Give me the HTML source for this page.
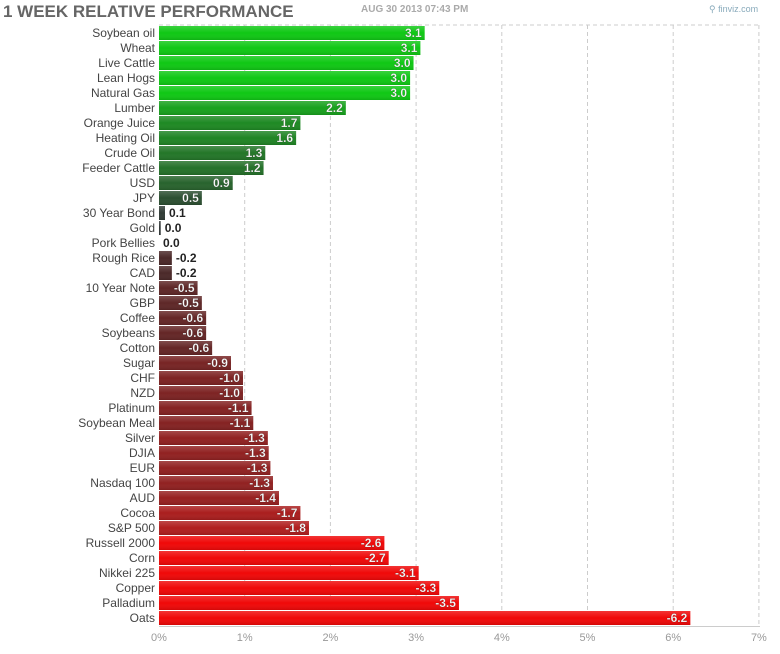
<!DOCTYPE html>
<html><head><meta charset="utf-8"><style>
body{margin:0;background:#fff;width:780px;height:649px;overflow:hidden;font-family:"Liberation Sans",Arial,sans-serif}
</style></head><body>
<svg id="s" width="780" height="649" xmlns="http://www.w3.org/2000/svg" font-family="Liberation Sans, Arial, sans-serif">
<defs>
<linearGradient id="sh" x1="0" y1="0" x2="0" y2="1">
<stop offset="0" stop-color="#fff" stop-opacity="0.18"/>
<stop offset="0.5" stop-color="#fff" stop-opacity="0"/>
<stop offset="1" stop-color="#000" stop-opacity="0.12"/>
</linearGradient>
</defs>
<text x="3" y="17" font-size="17" font-weight="bold" fill="#666">1 WEEK RELATIVE PERFORMANCE</text>
<text x="361" y="12" font-size="10" font-weight="bold" fill="#aaa">AUG 30 2013 07:43 PM</text>
<text x="709" y="12" font-size="9" fill="#8ab">⚲ finviz.com</text>
</svg>
<script>
var d=[["Soybean oil",3.1],["Wheat",3.1],["Live Cattle",3.0],["Lean Hogs",3.0],["Natural Gas",3.0],["Lumber",2.2],["Orange Juice",1.7],["Heating Oil",1.6],["Crude Oil",1.3],["Feeder Cattle",1.2],["USD",0.9],["JPY",0.5],["30 Year Bond",0.1],["Gold",0.0],["Pork Bellies",0.0],["Rough Rice",-0.2],["CAD",-0.2],["10 Year Note",-0.5],["GBP",-0.5],["Coffee",-0.6],["Soybeans",-0.6],["Cotton",-0.6],["Sugar",-0.9],["CHF",-1.0],["NZD",-1.0],["Platinum",-1.1],["Soybean Meal",-1.1],["Silver",-1.3],["DJIA",-1.3],["EUR",-1.3],["Nasdaq 100",-1.3],["AUD",-1.4],["Cocoa",-1.7],["S&P 500",-1.8],["Russell 2000",-2.6],["Corn",-2.7],["Nikkei 225",-3.1],["Copper",-3.3],["Palladium",-3.5],["Oats",-6.2]];
var w=[3.1,3.05,2.97,2.93,2.93,2.18,1.65,1.6,1.24,1.22,0.86,0.5,0.07,0.02,0,0.15,0.15,0.45,0.5,0.55,0.55,0.62,0.84,0.98,0.98,1.08,1.1,1.27,1.28,1.3,1.33,1.4,1.65,1.75,2.63,2.68,3.03,3.27,3.5,6.2];
var X0=159,S=85.7,s='';
for(var i=0;i<=7;i++){var x=X0+i*S;
 if(i>0)s+='<line x1="'+x+'" y1="25" x2="'+x+'" y2="626" stroke="#ccc" stroke-dasharray="4,3"/>';
 s+='<text x="'+x+'" y="641" font-size="11" fill="#999" text-anchor="middle">'+i+'%</text>';}
s+='<line x1="'+X0+'" y1="25" x2="760" y2="25" stroke="#ccc" stroke-dasharray="4,3"/>';
s+='<line x1="'+X0+'" y1="626.5" x2="760" y2="626.5" stroke="#ccc"/>';
function col(v){var m=Math.abs(v);
 if(v>=0){var t=Math.min(m/3,1);return 'rgb('+Math.round(50-35*t)+','+Math.round(55+145*t)+','+Math.round(55-35*t)+')';}
 var t=Math.min(m/2.6,1);if(m>=2.5)return 'rgb(240,8,8)';
 return 'rgb('+Math.round(62+165*t)+','+Math.round(42-18*t)+','+Math.round(42-18*t)+')';}
d.forEach(function(r,i){var y=26+15*i,bw=w[i]*S,c=col(r[1]);
 s+='<text x="155" y="'+(y+11)+'" font-size="12" fill="#444" text-anchor="end">'+r[0].replace('&','&amp;')+'</text>';
 if(bw>0){s+='<rect x="'+X0+'" y="'+y+'" width="'+bw+'" height="14" fill="'+c+'"/><rect x="'+X0+'" y="'+y+'" width="'+bw+'" height="14" fill="url(#sh)"/>';}
 var lab=r[1].toFixed(1);
 if(bw>32)s+='<text x="'+(X0+bw-3)+'" y="'+(y+11)+'" font-size="12" font-weight="bold" fill="#fff" text-anchor="end" stroke="#000" stroke-opacity="0.25" stroke-width="0.6">'+lab+'</text>';
 else s+='<text x="'+(X0+bw+4)+'" y="'+(y+11)+'" font-size="12" font-weight="bold" fill="#222">'+lab+'</text>';
});
document.getElementById('s').insertAdjacentHTML('beforeend',s);
</script>
</body></html>
